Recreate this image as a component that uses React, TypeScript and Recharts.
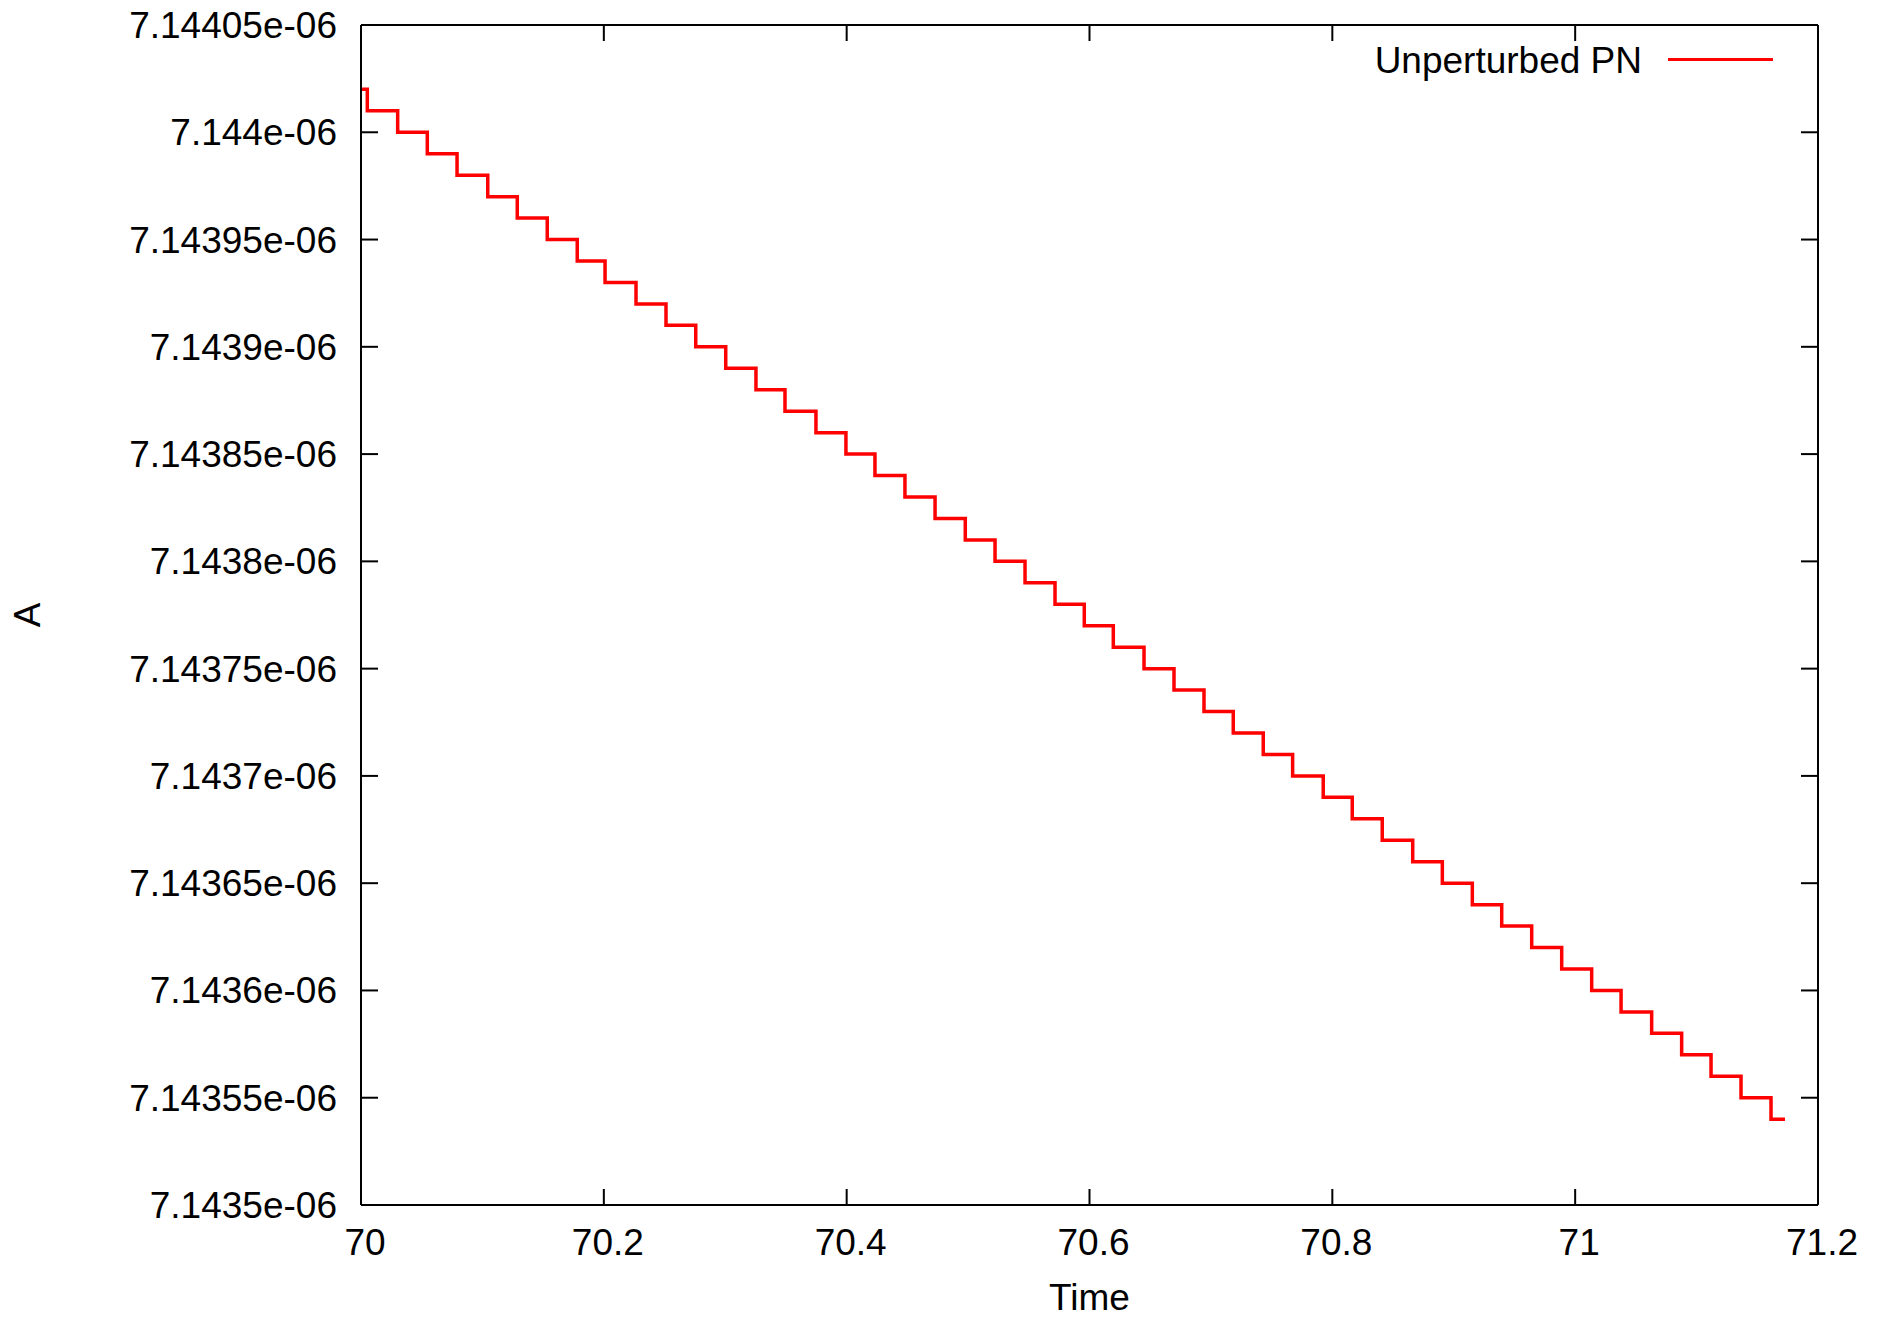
import { LineChart, Line, XAxis, YAxis, Legend, CartesianGrid } from "recharts";

// drop times (start, 48 drops, end)
const times = [
  70.0, 70.0052, 70.0302, 70.0546, 70.0791, 70.1044, 70.1287, 70.1534, 70.1781, 70.201,
  70.2265, 70.2512, 70.2757, 70.3004, 70.3253, 70.3492, 70.3747, 70.3994, 70.4233, 70.448,
  70.4728, 70.4977, 70.5222, 70.5469, 70.5716, 70.5957, 70.6196, 70.6449, 70.6696, 70.6943,
  70.7184, 70.7431, 70.7673, 70.7925, 70.8164, 70.8411, 70.8662, 70.8906, 70.9153, 70.9395,
  70.9642, 70.9889, 71.0136, 71.0378, 71.063, 71.0877, 71.1119, 71.1366, 71.1613, 71.1728,
];

const amplitude = [
  7.14402e-6, 7.14401e-6, 7.144e-6, 7.14399e-6, 7.14398e-6, 7.14397e-6, 7.14396e-6, 7.14395e-6, 7.14394e-6, 7.14393e-6,
  7.14392e-6, 7.14391e-6, 7.1439e-6, 7.14389e-6, 7.14388e-6, 7.14387e-6, 7.14386e-6, 7.14385e-6, 7.14384e-6, 7.14383e-6,
  7.14382e-6, 7.14381e-6, 7.1438e-6, 7.14379e-6, 7.14378e-6, 7.14377e-6, 7.14376e-6, 7.14375e-6, 7.14374e-6, 7.14373e-6,
  7.14372e-6, 7.14371e-6, 7.1437e-6, 7.14369e-6, 7.14368e-6, 7.14367e-6, 7.14366e-6, 7.14365e-6, 7.14364e-6, 7.14363e-6,
  7.14362e-6, 7.14361e-6, 7.1436e-6, 7.14359e-6, 7.14358e-6, 7.14357e-6, 7.14356e-6, 7.14355e-6, 7.14354e-6, 7.14354e-6,
];

const xTicks = [70, 70.2, 70.4, 70.6, 70.8, 71, 71.2];
const xTickLabels = ["70", "70.2", "70.4", "70.6", "70.8", "71", "71.2"];

const yTicks = [
  7.1435e-6, 7.14355e-6, 7.1436e-6, 7.14365e-6, 7.1437e-6, 7.14375e-6,
  7.1438e-6, 7.14385e-6, 7.1439e-6, 7.14395e-6, 7.144e-6, 7.14405e-6,
];
const yTickLabels = [
  "7.1435e-06", "7.14355e-06", "7.1436e-06", "7.14365e-06", "7.1437e-06", "7.14375e-06",
  "7.1438e-06", "7.14385e-06", "7.1439e-06", "7.14395e-06", "7.144e-06", "7.14405e-06",
];

const data = times.map((t, i) => ({ t, a: amplitude[i] }));

const FONT = "'Liberation Sans', Arial, Helvetica, sans-serif";
const FS = 37;
const TICK = 16;
const W = 1886;
const H = 1320;
const M = { top: 25, right: 68, bottom: 0, left: 0 };
const PLOT_TOP = M.top;
const PLOT_RIGHT = W - M.right;

const BottomTick = (p: any) => (
  <g>
    <line x1={p.x} y1={p.y} x2={p.x} y2={p.y - TICK} stroke="#000" strokeWidth={2} />
    <line x1={p.x} y1={PLOT_TOP} x2={p.x} y2={PLOT_TOP + TICK} stroke="#000" strokeWidth={2} />
    <text x={p.x + 4} y={p.y + 50} textAnchor="middle" fontSize={FS} fontFamily={FONT} fill="#000">
      {xTickLabels[p.index]}
    </text>
  </g>
);

const LeftTick = (p: any) => (
  <g>
    <line x1={p.x} y1={p.y} x2={p.x + TICK + 1} y2={p.y} stroke="#000" strokeWidth={2} />
    <line x1={PLOT_RIGHT} y1={p.y} x2={PLOT_RIGHT - TICK - 1} y2={p.y} stroke="#000" strokeWidth={2} />
    <text x={p.x - 24} y={p.y + 13} textAnchor="end" fontSize={FS} fontFamily={FONT} fill="#000">
      {yTickLabels[p.index]}
    </text>
  </g>
);

const renderLegend = (props: any) => {
  const item = props.payload?.[0];
  return (
    <div style={{ position: "relative", height: 0 }}>
      <span
        style={{
          position: "absolute",
          right: W - 1642,
          top: 43,
          fontFamily: FONT,
          fontSize: FS,
          lineHeight: "36px",
          whiteSpace: "nowrap",
          color: "#000",
        }}
      >
        {item ? item.value : "Unperturbed PN"}
      </span>
      <div style={{ position: "absolute", left: 1668, top: 58, width: 105, height: 3, background: "#ff0000" }} />
    </div>
  );
};

export default function App() {
  return (
    <div style={{ margin: -8, width: W, height: H, background: "#fff" }}>
      <LineChart width={W} height={H} data={data} margin={M}>
        <CartesianGrid
          stroke="#000"
          strokeWidth={2}
          horizontalCoordinatesGenerator={({ offset }: any) => [offset.top, offset.top + offset.height]}
          verticalCoordinatesGenerator={({ offset }: any) => [offset.left, offset.left + offset.width]}
        />
        <XAxis
          dataKey="t"
          type="number"
          domain={[70, 71.2]}
          ticks={xTicks}
          interval={0}
          height={115}
          tickSize={0}
          tickMargin={0}
          tickLine={false}
          axisLine={{ stroke: "#000", strokeWidth: 2 }}
          tick={BottomTick}
          allowDataOverflow
          label={{
            content: (lp: any) => (
              <text
                x={lp.viewBox.x + lp.viewBox.width / 2}
                y={1310}
                textAnchor="middle"
                fontSize={FS}
                fontFamily={FONT}
                fill="#000"
              >
                Time
              </text>
            ),
          }}
        />
        <YAxis
          type="number"
          domain={[7.1435e-6, 7.14405e-6]}
          ticks={yTicks}
          interval={0}
          width={361}
          tickSize={0}
          tickMargin={0}
          tickLine={false}
          axisLine={{ stroke: "#000", strokeWidth: 2 }}
          tick={LeftTick}
          allowDataOverflow
          label={{
            content: (lp: any) => {
              const cy = lp.viewBox.y + lp.viewBox.height / 2;
              return (
                <text
                  x={27}
                  y={cy}
                  dy={13}
                  transform={`rotate(-90, 27, ${cy})`}
                  textAnchor="middle"
                  fontSize={FS}
                  fontFamily={FONT}
                  fill="#000"
                >
                  A
                </text>
              );
            },
          }}
        />
        <Legend
          verticalAlign="top"
          content={renderLegend}
          wrapperStyle={{ top: 0, left: 0, width: W, height: 0, margin: 0, padding: 0 }}
        />
        <Line
          type="stepAfter"
          dataKey="a"
          name="Unperturbed PN"
          stroke="#ff0000"
          strokeWidth={3.5}
          dot={false}
          isAnimationActive={false}
          legendType="line"
        />
      </LineChart>
    </div>
  );
}
